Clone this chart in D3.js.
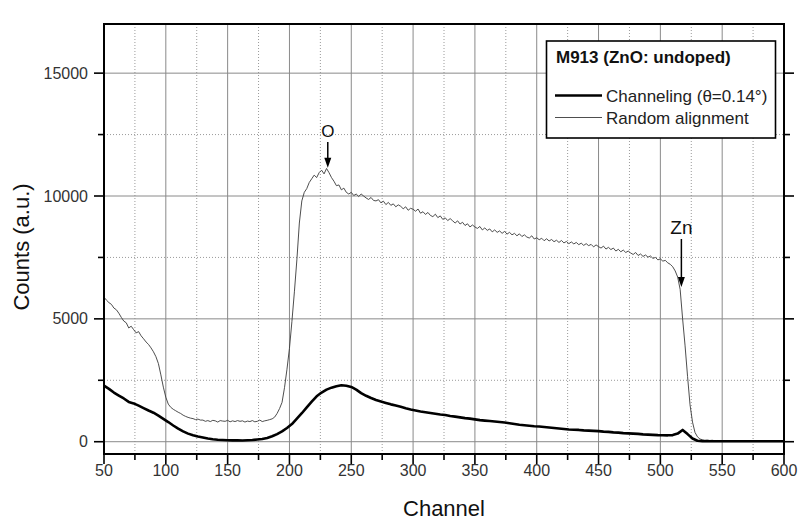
<!DOCTYPE html>
<html>
<head>
<meta charset="utf-8">
<script src="https://cdn.jsdelivr.net/npm/d3@7"></script>
<style>
  body { margin: 0; background: #fff; }
  svg { display: block; }
  text { font-family: "Liberation Sans", Arial, Helvetica, sans-serif; }
</style>
</head>
<body>
<svg id="chart" width="798" height="520"></svg>
<script>
// Random-alignment spectrum: counts every 2 channels starting at channel 50
const randomStart = 50, randomStep = 2;
const randomCounts = [
  5880, 5760, 5660, 5590, 5440, 5370, 5230, 5060, 4910, 4840,
  4630, 4700, 4560, 4430, 4480, 4310, 4190, 4060, 3960, 3820,
  3660, 3460, 3180, 2720, 2220, 1810, 1530, 1400, 1320, 1260,
  1200, 1150, 1080, 1030, 990, 960, 940, 900, 920, 880,
  880, 830, 860, 820, 870, 850, 800, 860, 840, 830,
  870, 810, 850, 820, 860, 830, 850, 800, 840, 820,
  860, 810, 830, 880, 820, 850, 870, 900, 930, 1000,
  1150, 1350, 1600, 2200, 2950, 3800, 4900, 6100, 7400, 8900,
  9800, 10150, 10300, 10550, 10700, 10850, 10750, 10950, 11050, 10900,
  11120, 10950, 10750, 10600, 10420, 10450, 10250, 10320, 10150, 10080,
  10150, 10020, 10080, 9980, 10080, 10000, 9920, 9860, 9940, 9820,
  9800, 9850, 9720, 9790, 9650, 9740, 9620, 9680, 9560, 9640,
  9580, 9480, 9560, 9420, 9500, 9460, 9380, 9470, 9300, 9360,
  9250, 9330, 9210, 9160, 9260, 9120, 9190, 9050, 9110, 9000,
  9080, 8990, 8900, 8990, 8860, 8930, 8800, 8870, 8740, 8820,
  8740, 8680, 8760, 8620, 8700, 8600, 8660, 8540, 8620, 8520,
  8580, 8480, 8560, 8450, 8520, 8420, 8480, 8380, 8460, 8350,
  8420, 8330, 8290, 8380, 8250, 8300, 8220, 8280, 8180, 8260,
  8170, 8230, 8140, 8200, 8110, 8190, 8090, 8150, 8060, 8130,
  8050, 8110, 8020, 8080, 7990, 8060, 7980, 8030, 7930, 8010,
  7940, 7880, 7960, 7840, 7910, 7820, 7880, 7760, 7830, 7730,
  7800, 7700, 7760, 7680, 7620, 7700, 7580, 7640, 7540, 7600,
  7510, 7560, 7460, 7500, 7400, 7440, 7350, 7380, 7280, 7220,
  7120, 6950, 6700, 6200, 5000, 3900, 2650, 1500, 800, 380,
  200, 110, 80, 60, 70, 50, 60, 40, 50, 40,
  30
];

// Channeling spectrum (theta = 0.14 deg): counts every 4 channels starting at channel 50
const channelingStart = 50, channelingStep = 4;
const channelingCounts = [
  2280, 2150, 2000, 1880, 1760, 1620, 1560, 1470, 1370, 1270,
  1180, 1060, 930, 800, 660, 530, 420, 330, 260, 210,
  170, 130, 100, 80, 70, 60, 55, 60, 50, 60,
  70, 90, 110, 150, 220, 310, 420, 560, 720, 940,
  1160, 1400, 1630, 1850, 2000, 2120, 2200, 2260, 2300, 2280,
  2230, 2120, 1980, 1870, 1780, 1700, 1640, 1580, 1520, 1470,
  1420, 1360, 1310, 1270, 1230, 1200, 1170, 1140, 1110, 1090,
  1050, 1020, 990, 960, 940, 910, 880, 860, 840, 820,
  800, 780, 750, 720, 690, 670, 650, 630, 620, 600,
  580, 560, 540, 520, 500, 490, 480, 460, 450, 440,
  430, 410, 400, 380, 370, 350, 340, 330, 320, 300,
  290, 280, 270, 265, 260, 270, 330, 480, 310, 130,
  40, 25, 20, 20, 20, 20, 20, 20, 20, 20,
  20, 20, 20, 20, 20, 20, 20, 20, 20
];

const xMajorTicks = [50, 100, 150, 200, 250, 300, 350, 400, 450, 500, 550, 600];
const xMinorTicks = [75, 125, 175, 225, 275, 325, 375, 425, 475, 525, 575];
const yMajorTicks = [0, 5000, 10000, 15000];
const yMinorTicks = [2500, 7500, 12500];

const legendTitle = "M913 (ZnO: undoped)";
const seriesNames = ["Channeling (\u03B8=0.14\u00B0)", "Random alignment"];
const xTitle = "Channel";
const yTitle = "Counts (a.u.)";

// Edge markers: label, channel, arrow start and end (counts)
const edgeLabels = ["O", "Zn"];
const edgeChannels = [231, 517];
const edgeArrowFrom = [12200, 8250];
const edgeArrowTo = [11150, 6300];

const svg = d3.select("#chart");
const W = 798, H = 520;
const plot = { left: 104, right: 784, top: 24, bottom: 454 };

const x = d3.scaleLinear().domain([50, 600]).range([plot.left, plot.right]);
const y = d3.scaleLinear().domain([-500, 17000]).range([plot.bottom, plot.top]);

const toPoints = (start, step, arr) => arr.map((v, i) => [start + i * step, v]);
const randomPts = toPoints(randomStart, randomStep, randomCounts);
const channelingPts = toPoints(channelingStart, channelingStep, channelingCounts);

svg.append("rect").attr("width", W).attr("height", H).attr("fill", "#fff");

svg.append("defs").append("clipPath").attr("id", "plotClip")
  .append("rect")
  .attr("x", plot.left).attr("y", plot.top)
  .attr("width", plot.right - plot.left).attr("height", plot.bottom - plot.top);

// Grid
const grid = svg.append("g");
grid.selectAll(".xmin").data(xMinorTicks).join("line")
  .attr("x1", d => x(d)).attr("x2", d => x(d))
  .attr("y1", plot.top).attr("y2", plot.bottom)
  .attr("stroke", "#9a9a9a").attr("stroke-width", 1).attr("stroke-dasharray", "1,2");
grid.selectAll(".ymin").data(yMinorTicks).join("line")
  .attr("x1", plot.left).attr("x2", plot.right)
  .attr("y1", d => y(d)).attr("y2", d => y(d))
  .attr("stroke", "#9a9a9a").attr("stroke-width", 1).attr("stroke-dasharray", "1,2");
grid.selectAll(".xmaj").data(xMajorTicks.slice(1, -1)).join("line")
  .attr("x1", d => x(d)).attr("x2", d => x(d))
  .attr("y1", plot.top).attr("y2", plot.bottom)
  .attr("stroke", "#8a8a8a").attr("stroke-width", 1);
grid.selectAll(".ymaj").data(yMajorTicks).join("line")
  .attr("x1", plot.left).attr("x2", plot.right)
  .attr("y1", d => y(d)).attr("y2", d => y(d))
  .attr("stroke", "#8a8a8a").attr("stroke-width", 1);

// Spectra
const line = d3.line().x(d => x(d[0])).y(d => y(d[1]));
const curves = svg.append("g").attr("clip-path", "url(#plotClip)");
curves.append("path").datum(randomPts)
  .attr("d", line).attr("fill", "none")
  .attr("stroke", "#3a3a3a").attr("stroke-width", 0.9).attr("stroke-linejoin", "round");
curves.append("path").datum(channelingPts)
  .attr("d", line).attr("fill", "none")
  .attr("stroke", "#000").attr("stroke-width", 2.6).attr("stroke-linejoin", "round");

// Frame and outward tick marks on all four... left, right and bottom sides
const axes = svg.append("g").attr("stroke", "#000");
axes.append("rect")
  .attr("x", plot.left).attr("y", plot.top)
  .attr("width", plot.right - plot.left).attr("height", plot.bottom - plot.top)
  .attr("fill", "none").attr("stroke-width", 2);

const yTicks = yMajorTicks.map(v => ({ v, len: 9 })).concat(yMinorTicks.map(v => ({ v, len: 5 })));
axes.selectAll(".ytl").data(yTicks).join("line")
  .attr("x1", plot.left - 1).attr("x2", d => plot.left - 1 - d.len)
  .attr("y1", d => y(d.v)).attr("y2", d => y(d.v))
  .attr("stroke-width", 1.6);
axes.selectAll(".ytr").data(yTicks).join("line")
  .attr("x1", plot.right + 1).attr("x2", d => plot.right + 1 + d.len)
  .attr("y1", d => y(d.v)).attr("y2", d => y(d.v))
  .attr("stroke-width", 1.6);
const xTicks = xMajorTicks.map(v => ({ v, len: 9 })).concat(xMinorTicks.map(v => ({ v, len: 5 })));
axes.selectAll(".xtb").data(xTicks).join("line")
  .attr("x1", d => x(d.v)).attr("x2", d => x(d.v))
  .attr("y1", plot.bottom + 1).attr("y2", d => plot.bottom + 1 + d.len)
  .attr("stroke-width", 1.6);

// Tick labels
const fmt = d3.format("d");
svg.append("g").selectAll("text").data(yMajorTicks).join("text")
  .attr("x", plot.left - 16).attr("y", d => y(d)).attr("dy", "0.35em")
  .attr("text-anchor", "end").attr("fill", "#333").style("font-size", "16px")
  .text(fmt);
svg.append("g").selectAll("text").data(xMajorTicks).join("text")
  .attr("x", d => x(d)).attr("y", plot.bottom + 22)
  .attr("text-anchor", "middle").attr("fill", "#333").style("font-size", "16px")
  .text(fmt);

// Axis titles
svg.append("text")
  .attr("x", (plot.left + plot.right) / 2).attr("y", 516)
  .attr("text-anchor", "middle").attr("fill", "#111")
  .style("font-size", "22px").text(xTitle);
svg.append("text")
  .attr("transform", `translate(29,${(plot.top + plot.bottom) / 2 + 8}) rotate(-90)`)
  .attr("text-anchor", "middle").attr("fill", "#111")
  .style("font-size", "22px").text(yTitle);

// Edge annotations
const ann = svg.append("g");
edgeLabels.forEach((lab, i) => {
  const cx = x(edgeChannels[i]);
  const y0 = y(edgeArrowFrom[i]);
  const y1 = y(edgeArrowTo[i]);
  ann.append("line")
    .attr("x1", cx).attr("x2", cx).attr("y1", y0).attr("y2", y1 - 8)
    .attr("stroke", "#000").attr("stroke-width", 1.5);
  ann.append("path")
    .attr("d", `M${cx - 3.5},${y1 - 10} L${cx + 3.5},${y1 - 10} L${cx},${y1} Z`)
    .attr("fill", "#000");
  ann.append("text")
    .attr("x", cx).attr("y", y0 - 5)
    .attr("text-anchor", "middle").attr("fill", "#111")
    .style("font-size", lab === "O" ? "17px" : "19px").text(lab);
});

// Legend
const lg = svg.append("g");
lg.append("rect")
  .attr("x", 546.5).attr("y", 41).attr("width", 229).attr("height", 97)
  .attr("fill", "#fff").attr("stroke", "#000").attr("stroke-width", 1.6);
lg.append("text")
  .attr("x", 556).attr("y", 62.5)
  .attr("fill", "#111").style("font-size", "17px").style("font-weight", "bold")
  .text(legendTitle);
const rows = [{ yy: 95.5, w: 2.6, c: "#000" }, { yy: 117.5, w: 0.9, c: "#3a3a3a" }];
rows.forEach((r, i) => {
  lg.append("line")
    .attr("x1", 555).attr("x2", 602).attr("y1", r.yy).attr("y2", r.yy)
    .attr("stroke", r.c).attr("stroke-width", r.w);
  lg.append("text")
    .attr("x", 606).attr("y", r.yy + 6)
    .attr("fill", "#222").style("font-size", "17px")
    .text(seriesNames[i]);
});
</script>
</body>
</html>
